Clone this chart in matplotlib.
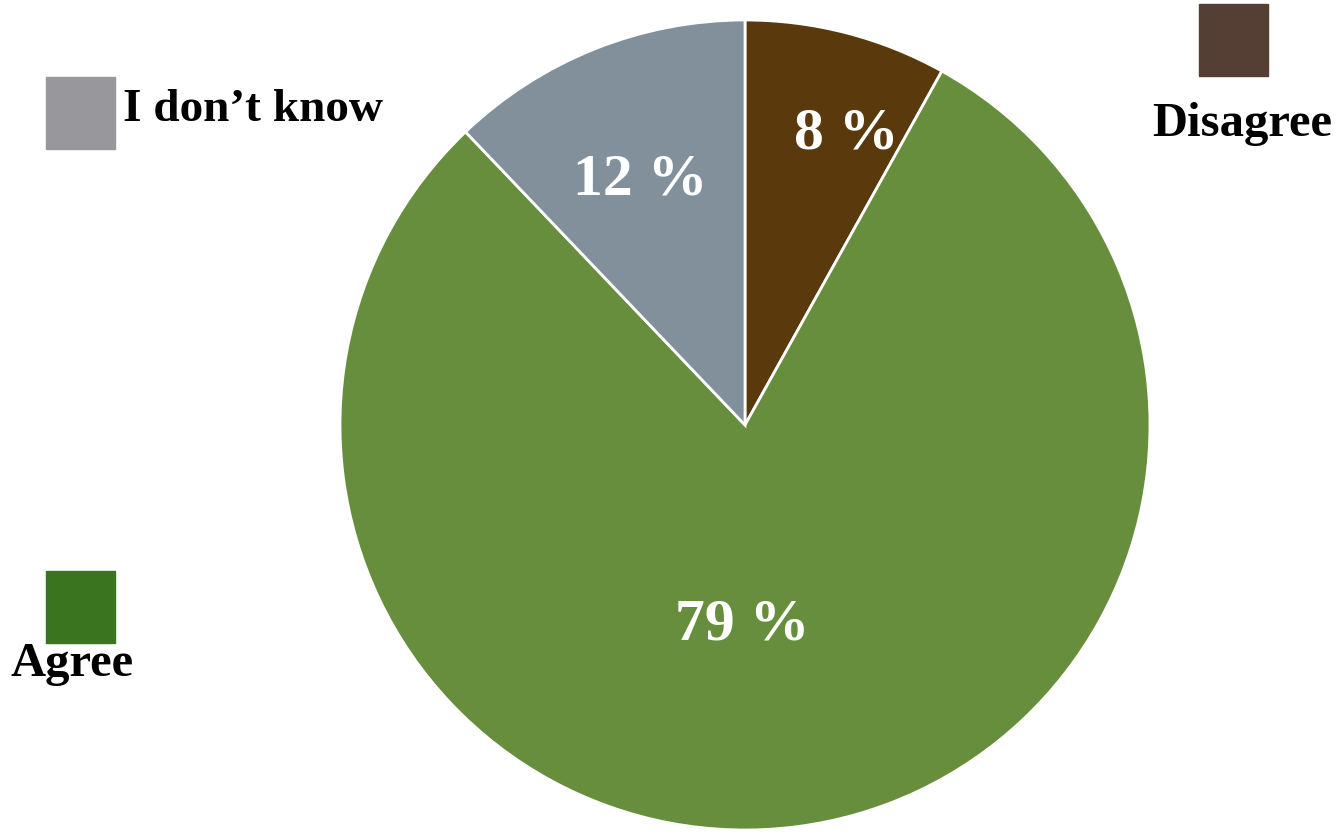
import matplotlib
matplotlib.use("Agg")
import matplotlib.pyplot as plt
import numpy as np
from matplotlib.patches import Rectangle

# data
labels = ["Disagree", "Agree", "I don\u2019t know"]
values = [8, 79, 12]
pie_colors = ["#5a3a0d", "#678e3c", "#82909c"]
key_colors = ["#553f35", "#3a741f", "#98979c"]

plt.rcParams["font.family"] = ["Liberation Serif", "DejaVu Serif"]

W, H = 1341, 834
fig = plt.figure(figsize=(W / 100, H / 100), dpi=100)

# pie axes: centre (745, 425) px, radius 405 px
cx, cy, r = 745, 425, 405
ax = fig.add_axes([(cx - r) / W, (H - cy - r) / H, 2 * r / W, 2 * r / H])
wedges, _ = ax.pie(values, colors=pie_colors, startangle=90, counterclock=False,
                   wedgeprops=dict(edgecolor="white", linewidth=2))
ax.set_xlim(-1, 1)
ax.set_ylim(-1, 1)
ax.set_aspect("equal")
ax.axis("off")

# percentage labels inside the wedges (radius, angle nudge in degrees)
placement = [(0.76, -4.6), (0.494, -8.2), (0.658, 1.4)]
total = sum(values)
start = 90.0
for v, (d, nudge) in zip(values, placement):
    span = 360.0 * v / total
    mid = np.deg2rad(start - span / 2 + nudge)
    start -= span
    ax.text(d * np.cos(mid), d * np.sin(mid), f"{v} %", color="white",
            fontsize=43, fontweight="bold", ha="center", va="center")

# legend keys drawn as figure patches
def key(x, y, c):
    fig.add_artist(Rectangle((x / W, 1 - (y + 72) / H), 69 / W, 72 / H,
                             transform=fig.transFigure, color=c))

key(1199, 4, key_colors[0])
fig.text(1242 / W, 1 - 124 / H, labels[0], fontsize=35, fontweight="bold",
         ha="center", va="center")
key(46, 571, key_colors[1])
fig.text(72 / W, 1 - 664 / H, labels[1], fontsize=35, fontweight="bold",
         ha="center", va="center")
key(46, 77, key_colors[2])
fig.text(123 / W, 1 - 110 / H, labels[2], fontsize=34, fontweight="bold",
         ha="left", va="center")

fig.savefig("out.png", dpi=100, facecolor="white")
